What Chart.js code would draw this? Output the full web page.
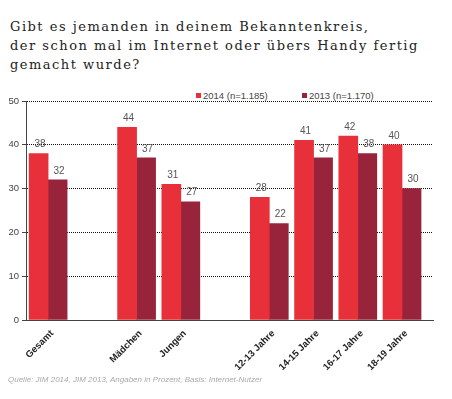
<!DOCTYPE html>
<html>
<head>
<meta charset="utf-8">
<script src="https://cdn.jsdelivr.net/npm/chart.js@4"></script>
<style>
  body { margin: 0; width: 452px; height: 399px; background: #fff; position: relative; overflow: hidden; font-family: "Liberation Sans", Arial, sans-serif; }
  #title { position: absolute; left: 10px; top: 17px; font-family: "DejaVu Serif", serif; font-size: 13px; line-height: 19px; color: #222; letter-spacing: 1.5px; white-space: nowrap; }
  #wrap { position: absolute; left: 0; top: 86px; width: 452px; height: 313px; }
  #legend { position: absolute; top: 90px; left: 0; font-size: 9.5px; color: #444; }
  #legend span { position: absolute; white-space: nowrap; }
  #legend i { display: inline-block; width: 5px; height: 5px; margin-right: 2px; vertical-align: 1px; }
  #source { position: absolute; left: 8px; top: 375px; font-size: 8px; font-style: italic; color: #aaa; }
</style>
</head>
<body>
<div id="title">Gibt es jemanden in deinem Bekanntenkreis,<br>der schon mal im Internet oder übers Handy fertig<br>gemacht wurde?</div>
<div id="legend"></div>
<div id="wrap"><canvas id="c"></canvas></div>
<div id="source">Quelle: JIM 2014, JIM 2013, Angaben in Prozent, Basis: Internet-Nutzer</div>
<script>
// blank entries keep the gaps between the groups
const categories = ['Gesamt', '', 'Mädchen', 'Jungen', '', '12-13 Jahre', '14-15 Jahre', '16-17 Jahre', '18-19 Jahre'];
const values2014 = [38, null, 44, 31, null, 28, 41, 42, 40];
const values2013 = [32, null, 37, 27, null, 22, 37, 38, 30];
const seriesNames = ['2014 (n=1.185)', '2013 (n=1.170)'];
const yTicks = [0, 10, 20, 30, 40, 50];

const colors = ['#e8303a', '#98243c'];

document.getElementById('legend').innerHTML = seriesNames.map((n, i) =>
  `<span style="left:${[196, 302][i]}px"><i style="background:${colors[i]}"></i>${n}</span>`).join('');

const valueLabels = {
  id: 'valueLabels',
  afterDatasetsDraw(chart) {
    const ctx = chart.ctx;
    ctx.save();
    ctx.font = '10px "Liberation Sans", Arial, sans-serif';
    ctx.fillStyle = '#555';
    ctx.textAlign = 'center';
    ctx.textBaseline = 'bottom';
    chart.data.datasets.forEach((ds, di) => {
      chart.getDatasetMeta(di).data.forEach((el, i) => {
        const v = ds.data[i].y;
        if (v == null) return;
        ctx.fillText(v, el.x + 1.5, el.y - 4);
      });
    });
    ctx.restore();
  }
};

new Chart(document.getElementById('c'), {
  type: 'bar',
  data: {
    datasets: [values2014, values2013].map((vals, i) => ({
      label: seriesNames[i],
      data: vals.map((v, x) => ({ x, y: v })),
      backgroundColor: colors[i],
      barThickness: 19
    }))
  },
  options: {
    responsive: true,
    maintainAspectRatio: false,
    animation: false,
    layout: { padding: { top: 15, right: 19, left: 0, bottom: 0 } },
    plugins: { legend: { display: false }, tooltip: { enabled: false } },
    scales: {
      x: {
        type: 'linear',
        min: -0.5,
        max: 8.7,
        offset: false,
        afterBuildTicks: s => { s.ticks = categories.map((c, i) => ({ value: i })); },
        afterFit: s => { s.height = 79; },
        grid: { display: false, offset: false },
        border: { display: true, color: '#444', width: 1 },
        ticks: {
          autoSkip: false,
          minRotation: 45,
          maxRotation: 45,
          labelOffset: 4,
          padding: 0,
          color: '#222',
          font: { family: '"Liberation Sans", Arial, sans-serif', size: 9.5, weight: 'bold' },
          callback: v => categories[v]
        }
      },
      y: {
        min: 0,
        max: 50,
        afterBuildTicks: s => { s.ticks = yTicks.map(v => ({ value: v })); },
        afterFit: s => { s.width = 26; },
        grid: {
          color: c => c.tick && c.tick.value === 0 ? 'rgba(0,0,0,0)' : '#111',
          tickColor: '#444',
          tickLength: 4,
          lineWidth: 1
        },
        border: { display: true, color: '#444', width: 1, dash: [1, 1] },
        ticks: {
          padding: 3,
          color: '#444',
          font: { family: '"Liberation Sans", Arial, sans-serif', size: 9.5 }
        }
      }
    }
  },
  plugins: [valueLabels]
});
</script>
</body>
</html>
